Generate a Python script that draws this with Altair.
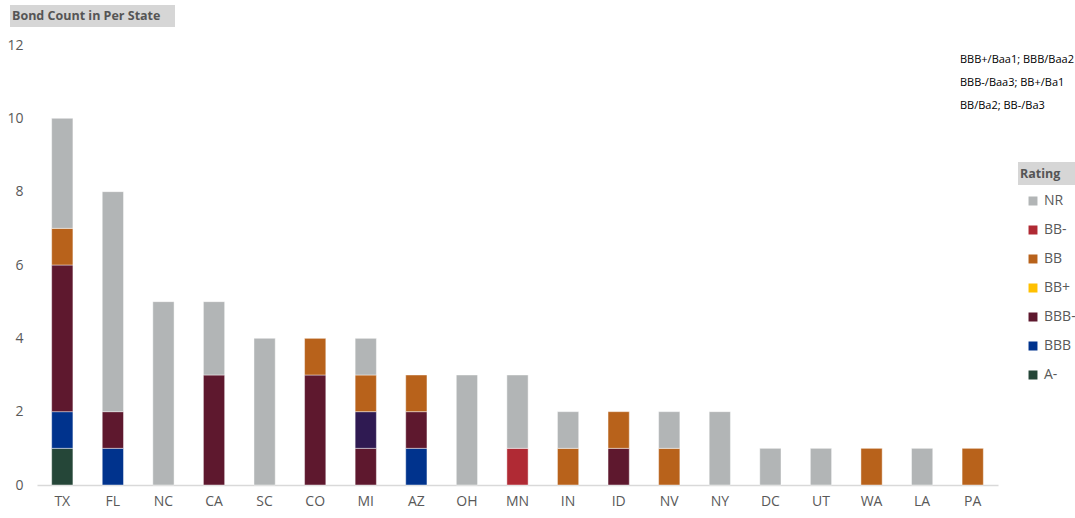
import altair as alt
import pandas as pd

# States in display order (sorted by total bond count)
states = ["TX", "FL", "NC", "CA", "SC", "CO", "MI", "AZ", "OH", "MN",
          "IN", "ID", "NV", "NY", "DC", "UT", "WA", "LA", "PA"]

# Bond counts per rating bucket, one value per state
a_minus   = [1, 0, 0, 0, 0, 0, 0, 0, 0, 0, 0, 0, 0, 0, 0, 0, 0, 0, 0]
bbb       = [1, 1, 0, 0, 0, 0, 0, 1, 0, 0, 0, 0, 0, 0, 0, 0, 0, 0, 0]
bbb_minus = [4, 1, 0, 3, 0, 3, 1, 1, 0, 0, 0, 1, 0, 0, 0, 0, 0, 0, 0]
unlisted  = [0, 0, 0, 0, 0, 0, 1, 0, 0, 0, 0, 0, 0, 0, 0, 0, 0, 0, 0]
bb_plus   = [0, 0, 0, 0, 0, 0, 0, 0, 0, 0, 0, 0, 0, 0, 0, 0, 0, 0, 0]
bb        = [1, 0, 0, 0, 0, 1, 1, 1, 0, 0, 1, 1, 1, 0, 0, 0, 1, 0, 1]
bb_minus  = [0, 0, 0, 0, 0, 0, 0, 0, 0, 1, 0, 0, 0, 0, 0, 0, 0, 0, 0]
nr        = [3, 6, 5, 2, 4, 0, 1, 0, 3, 2, 1, 0, 1, 2, 1, 1, 0, 1, 0]

# Stack order, bottom to top
ratings = ["A-", "BBB", "BBB-", "Unlisted", "BB+", "BB", "BB-", "NR"]
series = [a_minus, bbb, bbb_minus, unlisted, bb_plus, bb, bb_minus, nr]
colors = ["#254638", "#00338D", "#5E182E", "#2F1A52", "#FFC000",
          "#B8621B", "#B02A34", "#B2B5B6"]
legend_order = ["NR", "BB-", "BB", "BB+", "BBB-", "BBB", "A-"]

notes = ["BBB+/Baa1; BBB/Baa2", "BBB-/Baa3; BB+/Ba1", "BB/Ba2; BB-/Ba3"]
chart_title = "Bond Count in Per State"
legend_title = "Rating"

rows = []
for k, (rating, vals) in enumerate(zip(ratings, series)):
    for st, v in zip(states, vals):
        if v:
            rows.append({"State": st, "Rating": rating, "Count": v, "ord": k})
df = pd.DataFrame(rows)

FONT = "Open Sans"
W, H = 961, 440

bars = alt.Chart(df).mark_bar(stroke="white", strokeOpacity=0.55, strokeWidth=0.8).encode(
    x=alt.X("State:N", sort=states, title=None,
            scale=alt.Scale(paddingInner=0.58, paddingOuter=0.29),
            axis=alt.Axis(labelAngle=0, ticks=False, domainColor="#D9D9D9",
                          domainWidth=1.5, labelPadding=9, labelFontSize=14,
                          labelColor="#595959", labelFont=FONT)),
    y=alt.Y("Count:Q", stack="zero", title=None,
            scale=alt.Scale(domain=[0, 12], nice=False),
            axis=alt.Axis(values=list(range(0, 13, 2)), grid=False, domain=False,
                          ticks=False, labelPadding=14, labelFontSize=14,
                          labelColor="#595959", labelFont=FONT)),
    color=alt.Color("Rating:N",
                    scale=alt.Scale(domain=ratings, range=colors),
                    legend=alt.Legend(values=legend_order, title=None, orient="none",
                                      legendX=989, legendY=148, padding=0,
                                      symbolType="square", symbolSize=80,
                                      symbolStrokeWidth=0, labelFontSize=14,
                                      labelColor="#595959", labelFont=FONT,
                                      labelOffset=4, rowPadding=13, clipHeight=16)),
    order=alt.Order("ord:Q", sort="ascending"),
)

# Grey header boxes for the chart title and the legend title
box_df = pd.DataFrame({
    "x": [-27, 981], "x2": [138, 1038], "y": [-40, 117], "y2": [-18, 140],
})
boxes = alt.Chart(box_df).mark_rect(color="#D6D6D6").encode(
    x=alt.X("x:Q", scale=None), x2="x2:Q",
    y=alt.Y("y:Q", scale=None), y2="y2:Q",
)

title_text = alt.Chart(pd.DataFrame({"t": [chart_title]})).mark_text(
    align="left", baseline="middle", font=FONT, fontSize=12.5,
    fontWeight="bold", color="#555555"
).encode(x=alt.value(-25), y=alt.value(-29), text="t:N")

legend_title_text = alt.Chart(pd.DataFrame({"t": [legend_title]})).mark_text(
    align="left", baseline="middle", font=FONT, fontSize=12.5,
    fontWeight="bold", color="#555555"
).encode(x=alt.value(983), y=alt.value(129), text="t:N")

notes_df = pd.DataFrame({"t": notes, "i": list(range(len(notes)))})
notes_text = alt.Chart(notes_df).mark_text(
    align="left", baseline="middle", font=FONT, fontSize=11, color="#000000"
).encode(
    x=alt.value(923),
    y=alt.Y("i:Q", scale=alt.Scale(domain=[0, 2], range=[15, 61]), axis=None),
    text="t:N",
)

chart = alt.layer(boxes, bars, title_text, legend_title_text, notes_text).resolve_scale(
    y="independent"
).properties(
    width=W, height=H, autosize="none", background="white",
    padding={"left": 37, "top": 45, "right": 77, "bottom": 33},
).configure_view(stroke=None)

chart.save("out.html", embed_options={"renderer": "svg", "actions": False})
